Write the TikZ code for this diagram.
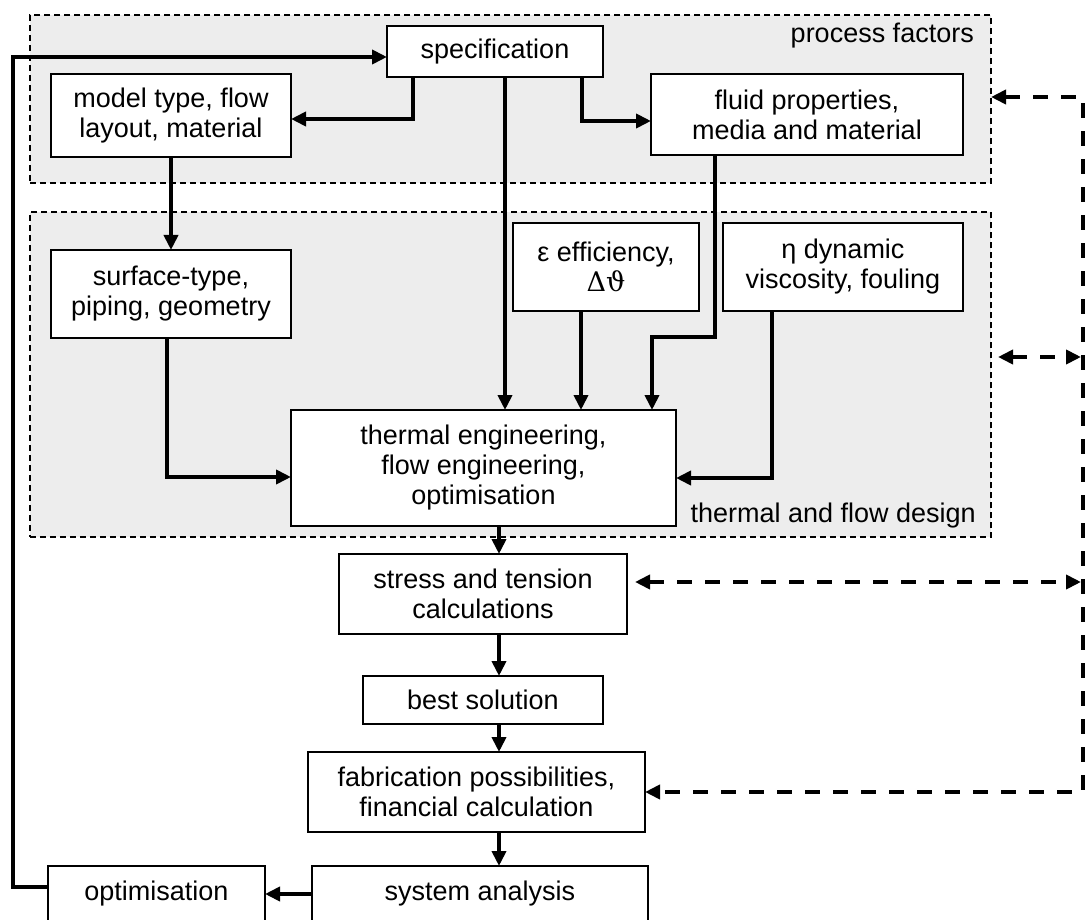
\documentclass[tikz,border=0pt]{standalone}
\usepackage{fontspec}
\setmainfont{Liberation Sans}
\newfontfamily\grkserif{DejaVu Serif}
\usetikzlibrary{arrows.meta}
\tikzset{
  region/.style={draw, dash pattern=on 6pt off 4pt, line width=1.3pt, fill=black!7, inner sep=0pt, outer sep=0pt},
  blk/.style={draw, line width=1.6pt, fill=white, align=center, inner sep=0pt, outer sep=0pt},
  conn/.style={line width=4pt, -{Triangle[length=15pt,width=14pt]}},
  dconn/.style={line width=4pt, dash pattern=on 15pt off 13pt},
  dtip/.style={{Triangle[length=15pt,width=14pt]}-{Triangle[length=15pt,width=14pt]}},
  lbl/.style={inner sep=0pt, anchor=base east}
}
\begin{document}
\begin{tikzpicture}[x=1pt, y=-1pt, font=\fontsize{27}{30}\selectfont]
\useasboundingbox (0,0) rectangle (1085,920);
% regions
\node[region, minimum width=961pt, minimum height=168pt] (proc) at (510.5,99) {};
\node[region, minimum width=961pt, minimum height=325pt] (thr) at (510.5,374.5) {};
\node[lbl] (proclbl) at (974,43) {process factors};
\node[lbl] (thrlbl) at (976,522) {thermal and flow design};
% boxes
\node[blk, minimum width=216pt, minimum height=51pt] (spec) at (495,51.5) {specification};
\node[blk, minimum width=240pt, minimum height=83pt] (model) at (171,115.5) {model type, flow\\layout, material};
\node[blk, minimum width=312pt, minimum height=81pt] (fluid) at (807,114.5) {fluid properties,\\media and material};
\node[blk, minimum width=240pt, minimum height=88pt] (surf) at (171,294) {surface-type,\\piping, geometry};
\node[blk, minimum width=186pt, minimum height=88pt] (eps) at (606,267) {ε efficiency,\\{\grkserif Δϑ}};
\node[blk, minimum width=240pt, minimum height=88pt] (eta) at (843,267) {η dynamic\\viscosity, fouling};
\node[blk, minimum width=385pt, minimum height=116pt] (therm) at (483.5,468) {thermal engineering,\\flow engineering,\\optimisation};
\node[blk, minimum width=288pt, minimum height=80pt] (stress) at (483,594) {stress and tension\\calculations};
\node[blk, minimum width=240pt, minimum height=48pt] (best) at (483,700) {best solution};
\node[blk, minimum width=337pt, minimum height=80pt] (fab) at (476.5,792) {fabrication possibilities,\\financial calculation};
\node[blk, minimum width=336pt, minimum height=56pt] (sys) at (480,894) {system analysis};
\node[blk, minimum width=217pt, minimum height=56pt] (opt) at (156.5,894) {optimisation};
% column coordinates
\coordinate (cA) at (413,0);
\coordinate (cB) at (505,0);
\coordinate (cC) at (582,0);
\coordinate (cD) at (715,0);
\coordinate (cE) at (652,0);
\coordinate (cF) at (581,0);
\coordinate (cG) at (772,0);
\coordinate (cH) at (167,0);
\coordinate (cM) at (499,0);
\coordinate (cL) at (13,0);
\coordinate (R) at (1083,0);
% solid connectors
\draw[conn] (spec.south -| cA) |- ([yshift=-3.5pt]model.east);
\draw[conn] (spec.south -| cB) -- (therm.north -| cB);
\draw[conn] (spec.south -| cC) |- ([yshift=-6.5pt]fluid.west);
\draw[conn] (model.south) -- (surf.north);
\draw[conn] (fluid.south -| cD) -- ++(0,182) -| (therm.north -| cE);
\draw[conn] (eps.south -| cF) -- (therm.north -| cF);
\draw[conn] (eta.south -| cG) |- ([yshift=-10pt]therm.east);
\draw[conn] (surf.south -| cH) |- ([yshift=-9pt]therm.west);
\draw[conn] (therm.south -| cM) -- (stress.north -| cM);
\draw[conn] (stress.south -| cM) -- (best.north -| cM);
\draw[conn] (best.south -| cM) -- (fab.north -| cM);
\draw[conn] (fab.south -| cM) -- (sys.north -| cM);
\draw[conn] (sys.west) -- (opt.east);
\draw[conn] ([yshift=7pt]opt.west) -| (cL |- 0,57) -- ([yshift=-5.5pt]spec.west);
% dashed connectors
\draw[dconn, dtip] ([yshift=2pt]proc.east) -- ([yshift=2pt]proc.east -| R) -- (fab.east -| R) -- (fab.east);
\draw[dconn, dtip] ([xshift=7pt,yshift=17.5pt]thr.east) -- ([xshift=-2pt]R |- 0,357);
\draw[dconn, dtip] ([xshift=8pt,yshift=12pt]stress.east) -- ([xshift=-2pt]R |- 0,582);
\end{tikzpicture}
\end{document}
